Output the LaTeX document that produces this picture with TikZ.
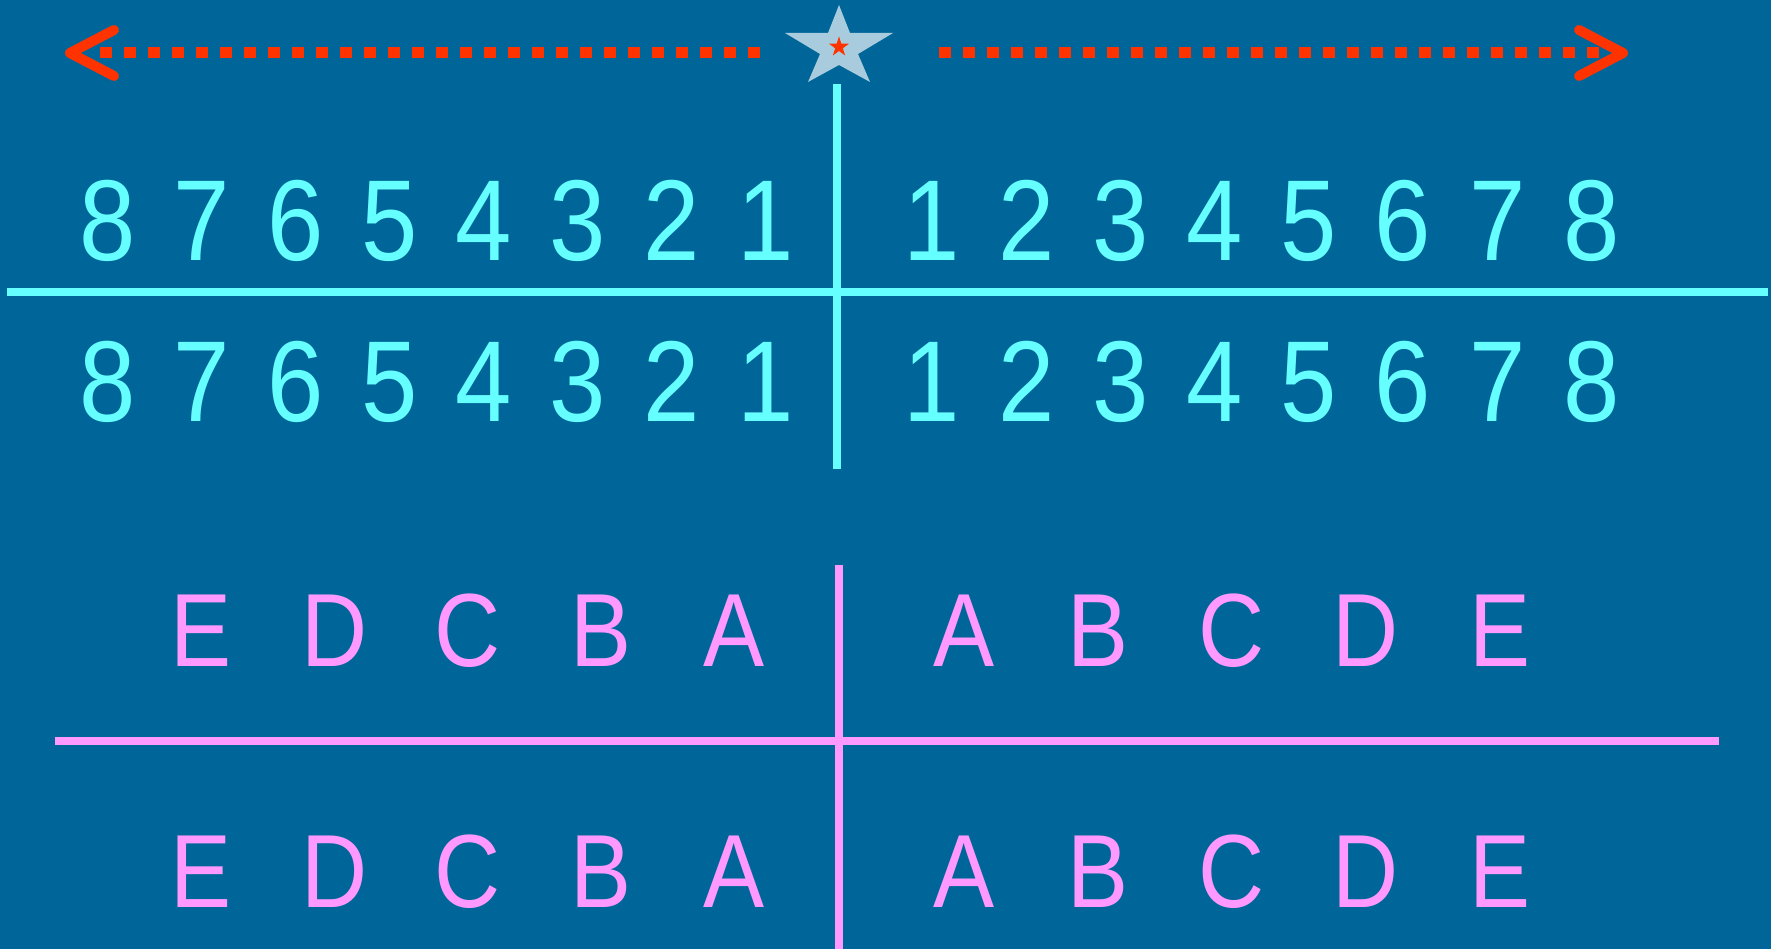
\documentclass[tikz,border=0pt]{standalone}
\usepackage{fontspec}
\setmainfont{Liberation Sans}[FakeStretch=0.88]
\usetikzlibrary{shapes.geometric}
\definecolor{bgblue}{HTML}{006699}
\definecolor{numcyan}{HTML}{66FFFF}
\definecolor{letpink}{HTML}{FF99FF}
\definecolor{arrowred}{HTML}{FF3300}
\definecolor{starblue}{HTML}{A8CCDD}
\tikzset{
  numtxt/.style={text=numcyan, font=\fontsize{115}{115}\selectfont, anchor=base, inner sep=0pt},
  lettxt/.style={text=letpink, font=\fontsize{104}{104}\selectfont, anchor=base, inner sep=0pt},
  cyanrule/.style={draw=numcyan, line width=8pt},
  pinkrule/.style={draw=letpink, line width=8pt},
  dotrail/.style={draw=arrowred, line width=11pt, dash pattern=on 12pt off 12pt},
  chevron/.style={draw=arrowred, line width=10pt, line cap=round, line join=round},
  smallstar/.style={star, star points=5, star point ratio=2.6, fill=arrowred, inner sep=0pt, minimum size=21pt},
}

\begin{document}
\begin{tikzpicture}[x=1pt,y=-1pt]
  \useasboundingbox (0,0) rectangle (1771,949);
  \fill[bgblue] (0,0) rectangle (1771,949);

  % star and arrows
  \fill[starblue] (839,5) -- (850,33) -- (893,33) -- (858,54) -- (870,82) -- (839,65)
    -- (808,82) -- (820,54) -- (785,33) -- (828,33) -- cycle;
  \node[smallstar] (mark) at (839,47) {};

  \coordinate (dotLa) at (100,53);
  \coordinate (dotLb) at (760,53);
  \coordinate (dotRa) at (939,53);
  \coordinate (dotRb) at (1600,53);
  \draw[dotrail] (dotLb) -- (dotLa);
  \draw[dotrail] (dotRa) -- (dotRb);
  \draw[chevron] (114,30) -- (70,53) -- (114,76);
  \draw[chevron] (1579,30) -- (1623,53) -- (1579,76);

  % numbers
  \coordinate (numtop) at (837,84);
  \coordinate (numbot) at (837,469);
  \coordinate (numleft) at (7,292);
  \coordinate (numright) at (1768,292);
  \draw[cyanrule] (numtop) -- (numbot);
  \draw[cyanrule] (numleft) -- (numright);
  \foreach \n [evaluate=\n as \xl using 766-(\n-1)*94.1,
               evaluate=\n as \xr using 932+(\n-1)*94.2] in {1,...,8} {
    \node[numtxt] (numUL\n) at (\xl,261) {\n};
    \node[numtxt] (numUR\n) at (\xr,261) {\n};
    \node[numtxt] (numLL\n) at (\xl,421) {\n};
    \node[numtxt] (numLR\n) at (\xr,421) {\n};
  }

  % letters
  \coordinate (lettop) at (839,565);
  \coordinate (letbot) at (839,949);
  \coordinate (letleft) at (55,741);
  \coordinate (letright) at (1719,741);
  \draw[pinkrule] (lettop) -- (letbot);
  \draw[pinkrule] (letleft) -- (letright);
  \foreach \l [count=\k from 0, evaluate=\k as \xl using 734-\k*133.3,
               evaluate=\k as \xr using 964+\k*134] in {A,B,C,D,E} {
    \node[lettxt] (letUL\l) at (\xl,666) {\l};
    \node[lettxt] (letUR\l) at (\xr,666) {\l};
    \node[lettxt] (letLL\l) at (\xl,907) {\l};
    \node[lettxt] (letLR\l) at (\xr,907) {\l};
  }
\end{tikzpicture}
\end{document}
